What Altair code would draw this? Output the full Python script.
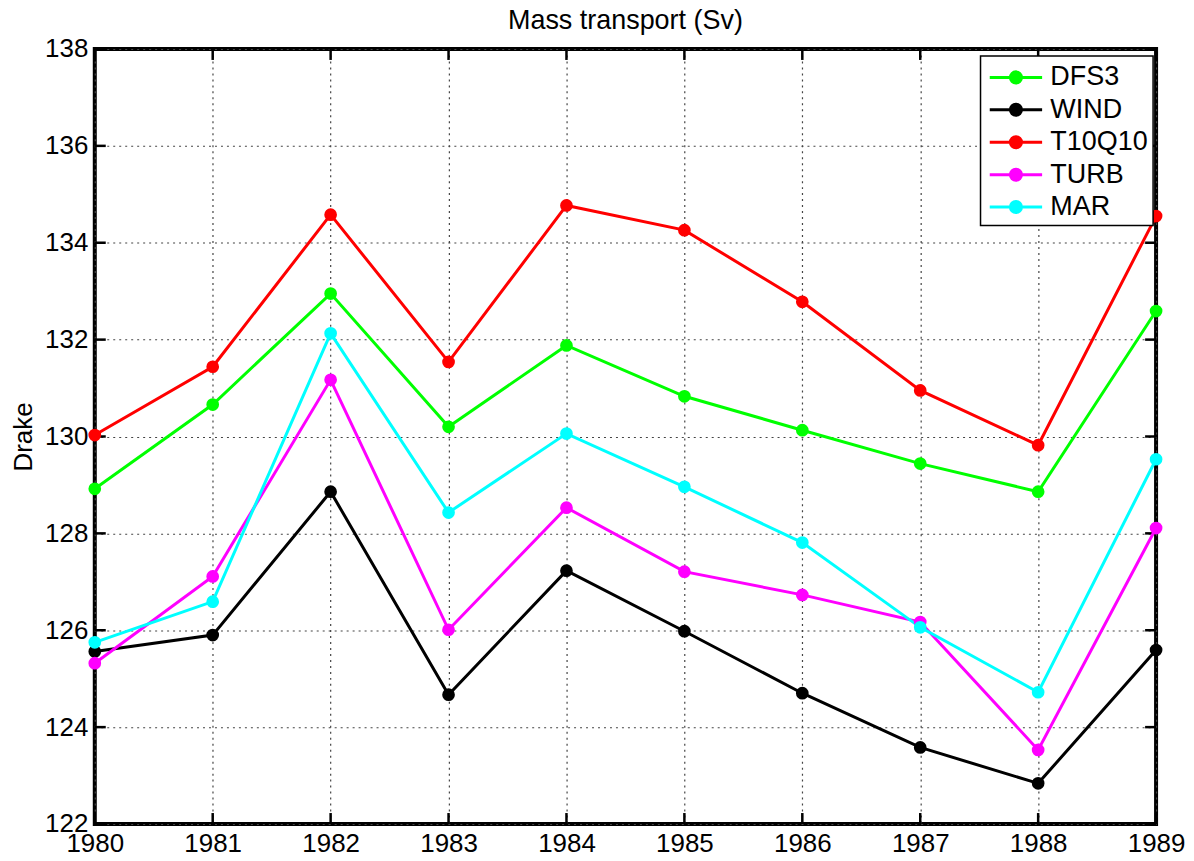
import altair as alt
import pandas as pd

years = [1980, 1981, 1982, 1983, 1984, 1985, 1986, 1987, 1988, 1989]
series_names = ["DFS3", "WIND", "T10Q10", "TURB", "MAR"]
series_colors = ["#00ff00", "#000000", "#ff0000", "#ff00ff", "#00ffff"]

dfs3 = [128.92, 130.66, 132.95, 130.20, 131.88, 130.83, 130.13, 129.44, 128.86, 132.59]
wind = [125.56, 125.90, 128.86, 124.67, 127.23, 125.98, 124.70, 123.58, 122.84, 125.59]
t10q10 = [130.03, 131.44, 134.58, 131.54, 134.77, 134.26, 132.78, 130.95, 129.82, 134.55]
turb = [125.32, 127.11, 131.17, 126.01, 128.53, 127.21, 126.73, 126.17, 123.53, 128.11]
mar = [125.75, 126.59, 132.13, 128.43, 130.06, 128.96, 127.81, 126.06, 124.72, 129.53]

y_ticks = [122, 124, 126, 128, 130, 132, 134, 136, 138]

rows = []
for name, vals in zip(series_names, [dfs3, wind, t10q10, turb, mar]):
    for yr, v in zip(years, vals):
        rows.append({"year": yr, "series": name, "value": v})
df = pd.DataFrame(rows)

FONT = "Liberation Sans"

x = alt.X(
    "year:Q",
    scale=alt.Scale(domain=[1980, 1989], nice=False, zero=False),
    axis=alt.Axis(values=years, format="d", title=None, labelFlush=False,
                  labelOverlap=False, labelPadding=7),
)
y = alt.Y(
    "value:Q",
    scale=alt.Scale(domain=[122, 138], nice=False, zero=False),
    axis=alt.Axis(values=y_ticks, format="d", title="Drake", labelPadding=7,
                  titlePadding=8, labelFlush=False, labelOverlap=False),
)

cscale = alt.Scale(domain=series_names, range=series_colors)

legend = alt.Legend(
    title=None,
    orient="none",
    legendX=888,
    legendY=7,
    fillColor="white",
    strokeColor="black",
    padding=5,
    labelFont=FONT,
    labelFontSize=27,
    labelColor="black",
    symbolType="M-1.75,0L1.75,0M-0.37,0A0.37,0.37,0,1,1,0.37,0A0.37,0.37,0,1,1,-0.37,0Z",
    symbolSize=900,
    symbolStrokeWidth=3,
    symbolOffset=14,
    labelOffset=18,
    rowPadding=2.5,
)

lines = alt.Chart(df).mark_line(strokeWidth=3).encode(
    x=x, y=y,
    stroke=alt.Stroke("series:N", scale=cscale, legend=legend),
)

points = alt.Chart(df).mark_point(filled=True, size=95, strokeWidth=3, opacity=1).encode(
    x=x, y=y,
    fill=alt.Fill("series:N", scale=cscale, legend=legend),
    stroke=alt.Stroke("series:N", scale=cscale, legend=legend),
)

xt = pd.DataFrame({"year": years})
yt = pd.DataFrame({"value": y_ticks})
TL = 11
TW = 2.5

bottom_ticks = alt.Chart(xt).mark_rule(color="black", strokeWidth=TW, y2Offset=-TL).encode(
    x=x, y=alt.datum(122), y2=alt.datum(122))
top_ticks = alt.Chart(xt).mark_rule(color="black", strokeWidth=TW, y2Offset=TL).encode(
    x=x, y=alt.datum(138), y2=alt.datum(138))
left_ticks = alt.Chart(yt).mark_rule(color="black", strokeWidth=TW, x2Offset=TL).encode(
    y=y, x=alt.datum(1980), x2=alt.datum(1980))
right_ticks = alt.Chart(yt).mark_rule(color="black", strokeWidth=TW, x2Offset=-TL).encode(
    y=y, x=alt.datum(1989), x2=alt.datum(1989))

chart = alt.layer(
    bottom_ticks, top_ticks, left_ticks, right_ticks, lines, points
).properties(
    width=1064,
    height=777,
    background="white",
    title=alt.TitleParams("Mass transport (Sv)", font=FONT, fontSize=27,
                          fontWeight="normal", color="black", anchor="middle",
                          offset=10, dy=9),
    autosize=alt.AutoSizeParams(type="none"),
    padding={"left": 87, "top": 40, "right": 30, "bottom": 34},
).configure_view(
    stroke="black", strokeWidth=4
).configure_axis(
    labelFont=FONT, labelFontSize=26, labelColor="black",
    titleFont=FONT, titleFontSize=26, titleFontWeight="normal", titleColor="black",
    grid=True, gridColor="#444444", gridDash=[2, 4], gridWidth=1.2, gridOpacity=1,
    ticks=False, domain=False,
).configure_legend(
    strokeWidth=1.5
)

chart.save("out.html", embed_options={"renderer": "svg", "actions": False})
